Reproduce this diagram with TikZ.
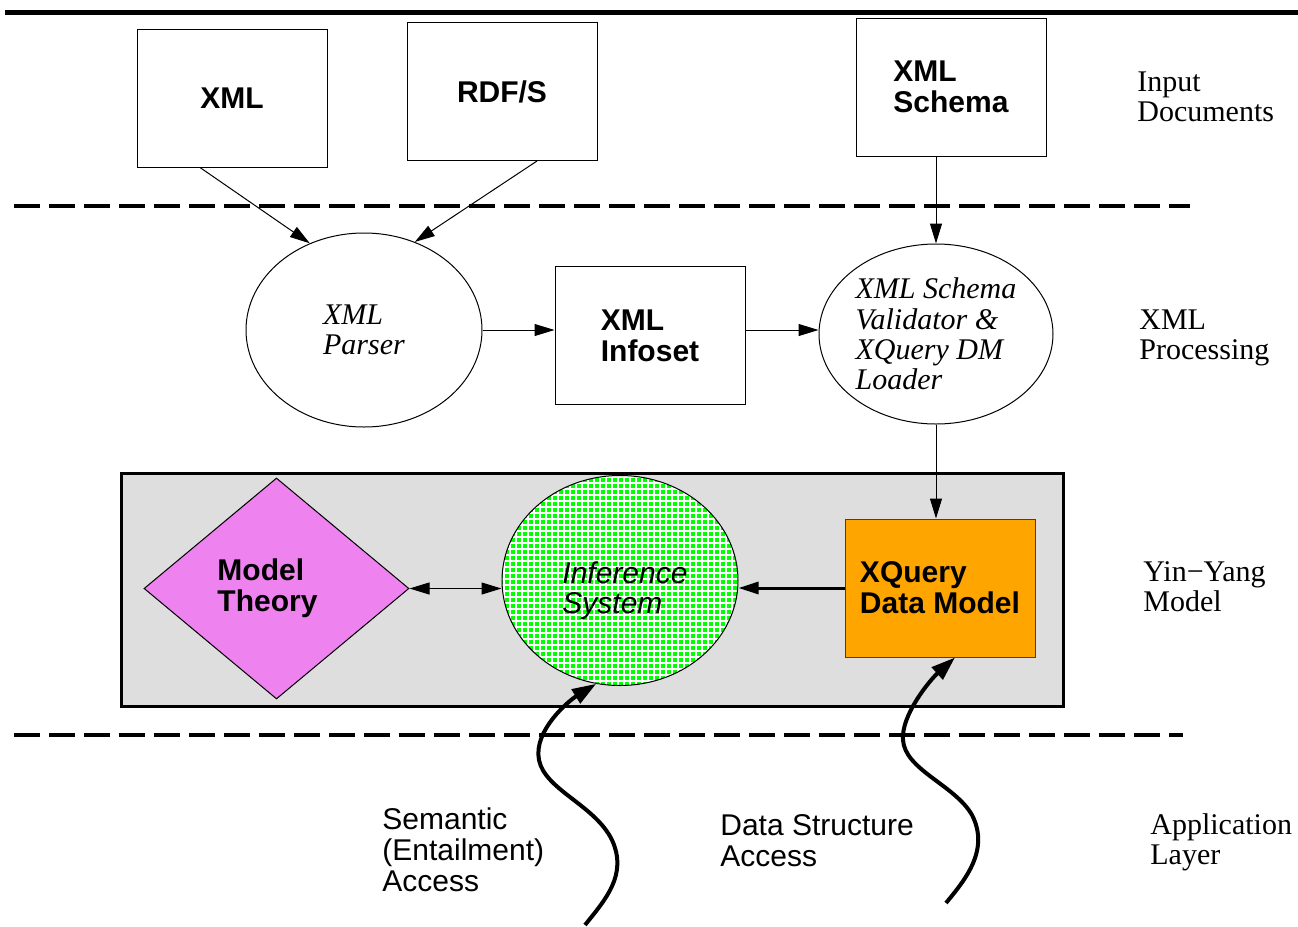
\documentclass[tikz,border=0pt]{standalone}
\usepackage{fontspec}
\setmainfont{Liberation Serif}
\setsansfont{Liberation Sans}
\usepackage{tikz}
\usetikzlibrary{shapes.geometric}
\usetikzlibrary{arrows.meta}
\usetikzlibrary{patterns}

\definecolor{panelgray}{HTML}{DEDEDE}
\definecolor{theoryviolet}{HTML}{EE82EE}
\definecolor{dmorange}{HTML}{FFA500}
\definecolor{infgreen}{HTML}{00FF00}

% white grid over the green of the inference system
\pgfdeclarepatternformonly{infgrid}{\pgfqpoint{-1pt}{-1pt}}{\pgfqpoint{4pt}{4pt}}{\pgfqpoint{3pt}{3pt}}{
 \pgfsetlinewidth{0.7pt}
 \pgfpathmoveto{\pgfqpoint{0pt}{0pt}}\pgfpathlineto{\pgfqpoint{0pt}{3.1pt}}
 \pgfpathmoveto{\pgfqpoint{0pt}{0pt}}\pgfpathlineto{\pgfqpoint{3.1pt}{0pt}}
 \pgfusepath{stroke}}

\tikzset{
 docbox/.style={draw, line width=0.5pt, minimum width=95pt, minimum height=69pt, inner sep=0pt, align=left, font=\sffamily\bfseries\fontsize{15}{15.5}\selectfont},
 procell/.style={ellipse, draw, line width=0.5pt, inner sep=0pt, align=left, font=\itshape\fontsize{15}{15.2}\selectfont},
 layertext/.style={anchor=west, inner sep=0pt, align=left, font=\fontsize{15}{15}\selectfont},
 accesstext/.style={anchor=west, inner sep=0pt, align=left, font=\sffamily\fontsize{15}{15.5}\selectfont},
 thinarrow/.style={-{Triangle[length=10pt,width=6pt]}, line width=0.5pt},
 wavyarrow/.style={-{Triangle[length=12pt,width=8pt]}, line width=2pt},
 layerline/.style={line width=2pt, dash pattern=on 13pt off 4.5pt}
}

\begin{document}
\begin{tikzpicture}[x=0.5pt, y=-0.5pt]

 \useasboundingbox (0,0) rectangle (1298,927);

 % Rule on top and the layer borders
 \draw [line width=2.5pt] (5,12) -- (1298,12);
 \draw [layerline] (14,206) -- (1190,206);
 \draw [layerline] (14,735) -- (1183,735);

 % Input documents
 \node [docbox] (xml) at (232,98) {XML};
 \node [docbox] (rdfs) at (502,91.5) {RDF/S};
 \node [docbox] (schema) at (951,87) {XML\\Schema};

 % XML processing
 \node [procell, minimum width=118pt, minimum height=97pt] (parser) at (364,330) {XML\\Parser};
 \node [docbox] (infoset) at (650,335.5) {XML\\Infoset};
 \node [procell, minimum width=117pt, minimum height=90pt] (validator) at (936,334) {XML Schema\\Validator \&\\XQuery DM\\Loader};

 % Yin-Yang model
 \node [draw, line width=1.5pt, fill=panelgray, minimum width=471pt, minimum height=116.5pt, inner sep=0pt] (panel) at (592,589.5) {};
 \node [diamond, draw, line width=0.5pt, fill=theoryviolet, minimum width=132.5pt, minimum height=110.5pt, inner sep=0pt,
   label={[name=theorytext, xshift=-4.5pt, align=left, font=\sffamily\bfseries\fontsize{15}{15.5}\selectfont]center:Model\\Theory}] (theory) at (276.5,588.5) {};
 \node [ellipse, draw, line width=0.5pt, preaction={fill=infgreen}, pattern=infgrid, pattern color=white, minimum width=118pt, minimum height=105pt, inner sep=0pt,
   label={[name=inftext, xshift=2.5pt, yshift=-5pt, align=left, font=\sffamily\itshape\fontsize{15}{15}\selectfont]center:Inference\\System}] (inference) at (620,580.5) {};
 \node [docbox, draw=black!75, fill=dmorange] (xquery) at (940,588) {XQuery\\Data Model};

 % Arrows between the layers
 \draw [thinarrow] ([xshift=-16pt]xml.south) -- (parser.122);
 \draw [thinarrow] ([xshift=17.5pt]rdfs.south) -- (parser.60);
 \draw [thinarrow] (validator.north |- schema.south) -- (validator.north);
 \draw [thinarrow] (parser.east) -- (parser.east -| infoset.west);
 \draw [thinarrow] (infoset.east |- parser.east) -- (validator.west |- parser.east);
 \draw [thinarrow] (validator.south) -- (validator.south |- xquery.north);
 \draw [{Triangle[length=10pt,width=6pt]}-{Triangle[length=10pt,width=6pt]}, line width=0.5pt] (theory.east) -- (theory.east -| inference.west);
 \draw [-{Triangle[length=10pt,width=6pt]}, line width=1.5pt] (xquery.west) -- (xquery.west -| inference.east);

 % Application access paths
 \coordinate (semfoot) at (585,925);
 \coordinate (dsfoot) at (946,903);
 \draw [wavyarrow] (semfoot) .. controls (605,900) and (628,875) .. (612,840)
   .. controls (595,805) and (545,790) .. (539,760)
   .. controls (533,730) and (570,700) .. (inference.257);
 \draw [wavyarrow] (dsfoot) .. controls (965,880) and (990,850) .. (972,815)
   .. controls (955,785) and (905,770) .. (903,740)
   .. controls (901,715) and (930,680) .. ([xshift=7.5pt]xquery.south);
 \node [accesstext] (semantic) at (382,850) {Semantic\\(Entailment)\\Access};
 \node [accesstext] (datastruct) at (720,841) {Data Structure\\Access};

 % Layer names
 \node [layertext] (inputlayer) at (1137,97) {Input\\Documents};
 \node [layertext] (proclayer) at (1139,338) {XML\\Processing};
 \node [layertext] (modellayer) at (1143,587) {Yin−Yang\\Model};
 \node [layertext] (applayer) at (1150,842) {Application\\Layer};

\end{tikzpicture}
\end{document}
